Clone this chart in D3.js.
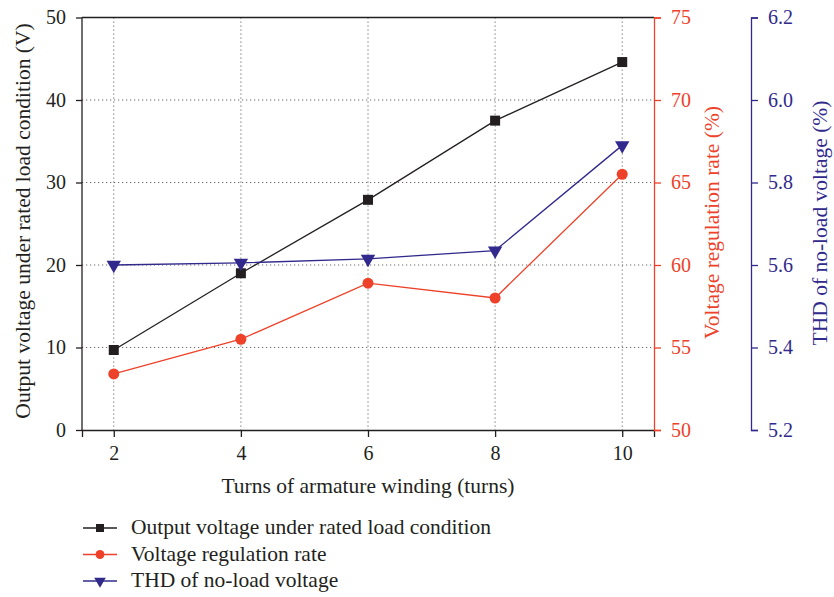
<!DOCTYPE html>
<html><head><meta charset="utf-8">
<script src="https://cdn.jsdelivr.net/npm/d3@7"></script>
<style>body{margin:0;background:#fff}svg{display:block}text{font-family:"Liberation Serif","Times New Roman",serif}</style>
</head><body><svg id="c" width="834" height="597"></svg>
<script>
const turns = [2, 4, 6, 8, 10];
const outputVoltage = [9.7, 19.0, 27.9, 37.5, 44.6];
const regulationRate = [53.4, 55.5, 58.9, 58.0, 65.5];
const thd = [5.60, 5.605, 5.615, 5.635, 5.89];
const xTicks = [2, 4, 6, 8, 10];
const leftTicks = [0, 10, 20, 30, 40, 50];
const redTicks = [50, 55, 60, 65, 70, 75];
const blueTicks = [5.2, 5.4, 5.6, 5.8, 6.0, 6.2];
const seriesNames = ["Output voltage under rated load condition", "Voltage regulation rate", "THD of no-load voltage"];

const black = "#231f20", red = "#ee4129", blue = "#312a8c";
const FONT = '"Liberation Serif","Times New Roman",serif';
const svg = d3.select("#c");
const L = 82, R = 654, T = 17.5, B = 430, BX = 751;
const x = d3.scaleLinear().domain([1.5, 10.5]).range([L, R]);
const yL = d3.scaleLinear().domain([0, 50]).range([B, T]);
const yR = d3.scaleLinear().domain([50, 75]).range([B, T]);
const yB = d3.scaleLinear().domain([5.2, 6.2]).range([B, T]);

// grid
const g = svg.append("g");
g.selectAll(".vx").data(xTicks).join("line")
  .attr("x1", d => x(d)).attr("x2", d => x(d)).attr("y1", T).attr("y2", B)
  .attr("stroke", "#666").attr("stroke-width", 1).attr("stroke-dasharray", "1.2,2.8");
g.selectAll(".hy").data(leftTicks.slice(1, -1)).join("line")
  .attr("x1", L).attr("x2", R).attr("y1", d => yL(d)).attr("y2", d => yL(d))
  .attr("stroke", "#666").attr("stroke-width", 1).attr("stroke-dasharray", "1.2,2.8");

// frame top
svg.append("line").attr("x1", L).attr("x2", R).attr("y1", T).attr("y2", T).attr("stroke", black).attr("stroke-width", 1.3);

function styleAxis(sel, color, fs) {
  sel.select(".domain").attr("stroke", color).attr("stroke-width", 1.3);
  sel.selectAll(".tick line").attr("stroke", color).attr("stroke-width", 1.3);
  sel.selectAll(".tick text").attr("fill", color).style("font-size", fs + "px").style("font-family", FONT);
}
const ax = svg.append("g").attr("transform", `translate(0,${B})`)
  .call(d3.axisBottom(x).tickValues(xTicks).tickSizeOuter(0).tickSize(7).tickPadding(9));
styleAxis(ax, black, 20);
const ay = svg.append("g").attr("transform", `translate(${L},0)`)
  .call(d3.axisLeft(yL).tickValues(leftTicks).tickSizeOuter(0).tickSize(6).tickPadding(10));
styleAxis(ay, black, 20);
ay.select(".domain").attr("d", `M0,${B}V${T}`);
const ar = svg.append("g").attr("transform", `translate(${R},0)`)
  .call(d3.axisRight(yR).tickValues(redTicks).tickSizeOuter(0).tickSize(7).tickPadding(10));
styleAxis(ar, red, 20);
const ab = svg.append("g").attr("transform", `translate(${BX},0)`)
  .call(d3.axisRight(yB).tickValues(blueTicks).tickFormat(d3.format(".1f")).tickSizeOuter(0).tickSize(7).tickPadding(10));
styleAxis(ab, blue, 20);

// axis titles
const TS = "21.5px";
svg.append("text").attr("x", 368).attr("y", 493).attr("text-anchor", "middle")
  .attr("fill", black).style("font-size", TS).text("Turns of armature winding (turns)");
svg.append("text").attr("transform", `translate(30,221) rotate(-90)`).attr("text-anchor", "middle")
  .attr("fill", black).style("font-size", TS).text("Output voltage under rated load condition (V)");
svg.append("text").attr("transform", `translate(719,222.5) rotate(-90)`).attr("text-anchor", "middle")
  .attr("fill", red).style("font-size", TS).text("Voltage regulation rate (%)");
svg.append("text").attr("transform", `translate(827,223) rotate(-90)`).attr("text-anchor", "middle")
  .attr("fill", blue).style("font-size", TS).text("THD of no-load voltage (%)");

// series
const series = [
  {vals: outputVoltage, y: yL, color: black, shape: d3.symbolSquare, size: 100},
  {vals: regulationRate, y: yR, color: red, shape: d3.symbolCircle, size: 95},
  {vals: thd, y: yB, color: blue, shape: d3.symbolTriangle, size: 90, flip: true}
];
series.forEach(s => {
  const pts = turns.map((t, i) => [x(t), s.y(s.vals[i])]);
  svg.append("path").attr("d", d3.line()(pts)).attr("fill", "none").attr("stroke", s.color).attr("stroke-width", 1.3);
  svg.selectAll(null).data(pts).join("path")
    .attr("transform", d => `translate(${d[0]},${d[1]})` + (s.flip ? " rotate(180)" : ""))
    .attr("d", d3.symbol().type(s.shape).size(s.size)).attr("fill", s.color);
});

// legend
const ly = [528, 554.5, 581];
series.forEach((s, i) => {
  svg.append("line").attr("x1", 83).attr("x2", 117).attr("y1", ly[i]).attr("y2", ly[i]).attr("stroke", s.color).attr("stroke-width", 1.3);
  svg.append("path").attr("transform", `translate(100,${ly[i]})` + (s.flip ? " rotate(180)" : ""))
    .attr("d", d3.symbol().type(s.shape).size(s.size * 0.65)).attr("fill", s.color);
  svg.append("text").attr("x", 131).attr("y", ly[i] + 6).attr("fill", black).style("font-size", "21.5px").text(seriesNames[i]);
});
</script></body></html>
